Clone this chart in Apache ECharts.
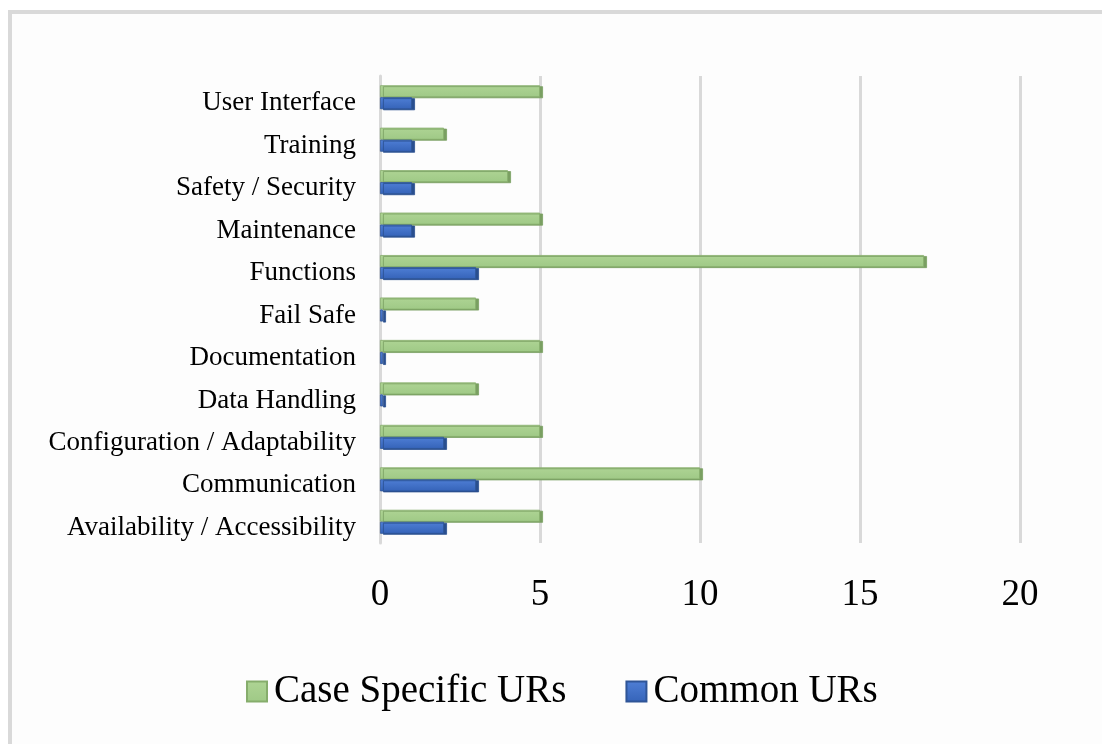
<!DOCTYPE html>
<html>
<head>
<meta charset="utf-8">
<title>User Requirements</title>
<script src="https://cdn.jsdelivr.net/npm/echarts@6/dist/echarts.min.js"></script>
<style>
html, body { margin: 0; padding: 0; background: #fff; }
#frame {
  position: absolute; left: 8px; top: 10px; width: 1094px; height: 734px;
  border-top: 4px solid #d9d9d9; border-left: 4px solid #d9d9d9;
  background: #fdfdfd; box-sizing: border-box;
}
#chart { position: absolute; left: 0; top: 0; width: 1102px; height: 744px; }
</style>
</head>
<body>
<div id="frame"></div>
<div id="chart"></div>
<script>
// categories bottom -> top, as the y axis reads them
var categories = ['Availability / Accessibility', 'Communication', 'Configuration / Adaptability',
  'Data Handling', 'Documentation', 'Fail Safe', 'Functions', 'Maintenance',
  'Safety / Security', 'Training', 'User Interface']
var caseSpecific = [5, 10, 5, 3, 5, 3, 17, 5, 4, 2, 5]
var common = [2, 3, 2, 0, 0, 0, 3, 1, 1, 1, 1]
var seriesNames = ['Case Specific URs', 'Common URs']
var xTicks = [0, 5, 10, 15, 20]

var serif = '"Liberation Serif", "DejaVu Serif", serif'
var chart = echarts.init(document.getElementById('chart'))
chart.setOption({
  backgroundColor: 'transparent',
  animation: false,
  grid: { left: 380, right: 82, top: 76, bottom: 201 },
  legend: {
    data: seriesNames,
    top: 667,
    left: 241,
    itemWidth: 20,
    itemHeight: 20,
    itemGap: 59,
    icon: 'rect',
    textStyle: { fontFamily: serif, fontSize: 39, color: '#000', padding: [0, 0, 0, 2] }
  },
  xAxis: {
    type: 'value',
    min: xTicks[0],
    max: xTicks[xTicks.length - 1],
    interval: 5,
    axisLine: { show: false },
    axisTick: { show: false },
    axisLabel: { fontFamily: serif, fontSize: 37, color: '#000', margin: 34 },
    splitLine: { lineStyle: { color: '#d9d9d9', width: 3 } }
  },
  yAxis: {
    type: 'category',
    data: categories,
    axisLine: { show: true, lineStyle: { color: '#d9d9d9', width: 3 } },
    axisTick: { show: false },
    axisLabel: {
      fontFamily: serif, fontSize: 27, color: '#000', margin: 24,
      verticalAlign: 'top', lineHeight: 12
    }
  },
  series: [
    {
      name: seriesNames[0],
      type: 'bar',
      data: caseSpecific,
      barWidth: 12,
      barGap: '0%',
      itemStyle: {
        color: new echarts.graphic.LinearGradient(0, 0, 0, 1, [
          { offset: 0, color: '#aed494' }, { offset: 1, color: '#9fc986' }]),
        borderColor: '#86ad6c', borderWidth: 0.8,
        shadowColor: '#7a9f62', shadowOffsetX: 3, shadowOffsetY: 1, shadowBlur: 0
      }
    },
    {
      name: seriesNames[1],
      type: 'bar',
      data: common,
      barWidth: 12,
      barGap: '0%',
      barMinHeight: 3,
      itemStyle: {
        color: new echarts.graphic.LinearGradient(0, 0, 0, 1, [
          { offset: 0, color: '#4f7fd6' }, { offset: 1, color: '#3563b8' }]),
        borderColor: '#2f5597', borderWidth: 0.8,
        shadowColor: '#2a4f8f', shadowOffsetX: 3, shadowOffsetY: 1, shadowBlur: 0
      }
    }
  ]
})
</script>
</body>
</html>
